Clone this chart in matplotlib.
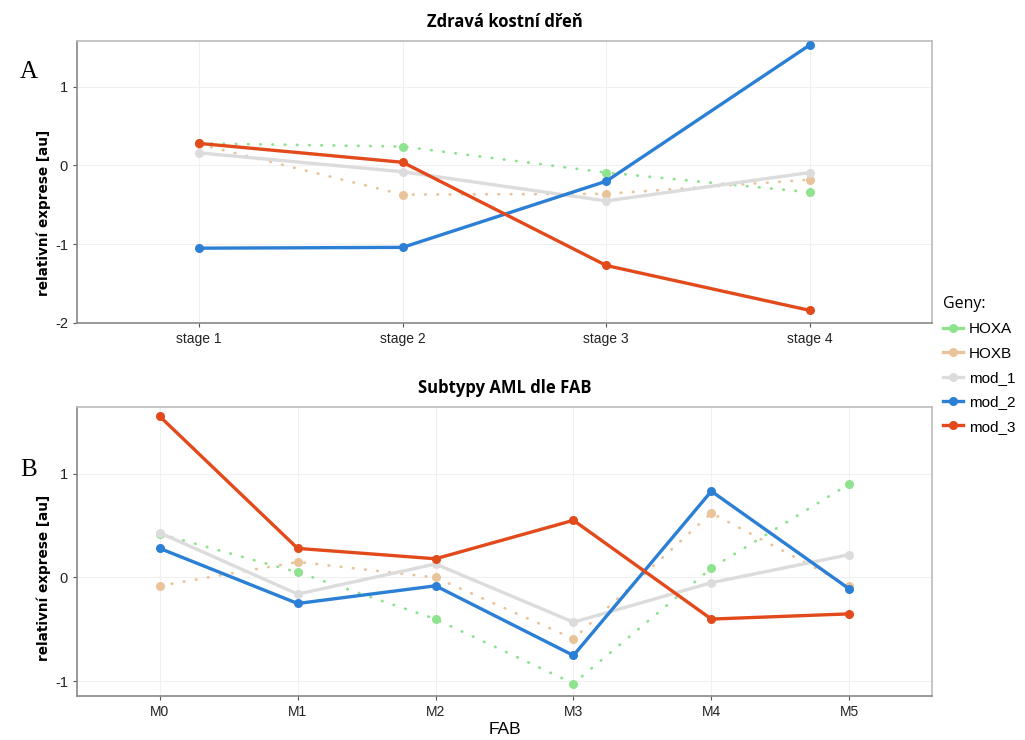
import matplotlib
matplotlib.use("Agg")
import matplotlib.pyplot as plt
from matplotlib.lines import Line2D

stages = ["stage 1", "stage 2", "stage 3", "stage 4"]
fab = ["M0", "M1", "M2", "M3", "M4", "M5"]
genes = ["HOXA", "HOXB", "mod_1", "mod_2", "mod_3"]

# Panel A: healthy bone marrow
a_hoxa = [0.28, 0.24, -0.09, -0.34]
a_hoxb = [0.27, -0.37, -0.36, -0.18]
a_mod1 = [0.16, -0.08, -0.45, -0.09]
a_mod2 = [-1.05, -1.04, -0.20, 1.53]
a_mod3 = [0.28, 0.04, -1.27, -1.84]

# Panel B: AML FAB subtypes
b_hoxa = [0.42, 0.05, -0.40, -1.02, 0.09, 0.90]
b_hoxb = [-0.08, 0.15, 0.00, -0.59, 0.62, -0.08]
b_mod1 = [0.43, -0.16, 0.13, -0.43, -0.05, 0.22]
b_mod2 = [0.28, -0.25, -0.08, -0.75, 0.83, -0.11]
b_mod3 = [1.55, 0.28, 0.18, 0.55, -0.40, -0.35]

colors = {"HOXA": "#8fe38f", "HOXB": "#e9c49a", "mod_1": "#dcdcdc",
          "mod_2": "#2b7fd4", "mod_3": "#e2491b"}
dotted = {"HOXA": True, "HOXB": True, "mod_1": False, "mod_2": False, "mod_3": False}

fig = plt.figure(figsize=(10.25, 7.4), dpi=100)
W, H = 1025, 740

def ax_rect(l, t, r, b):
    return [l / W, 1 - b / H, (r - l) / W, (b - t) / H]

axA = fig.add_axes(ax_rect(77, 41, 932, 323))
axB = fig.add_axes(ax_rect(77, 407, 932, 696))

def draw(ax, cats, series, ylim, yticks, title, label_y):
    x = list(range(len(cats)))
    for g in genes:
        vals = series[g]
        if dotted[g]:
            ax.plot(x, vals, color=colors[g], lw=2.0, ls=(0, (0.2, 4.2)),
                    dash_capstyle="round", marker="o", ms=6.5, mec="none", zorder=2)
        else:
            ax.plot(x, vals, color=colors[g], lw=2.4, ls="-",
                    marker="o", ms=6.5, mec="none", zorder=3)
    ax.set_xlim(-0.6, len(cats) - 1 + 0.6)
    ax.set_ylim(*ylim)
    ax.set_xticks(x)
    ax.set_xticklabels(cats, family="Liberation Sans", fontsize=10, color="#222222")
    ax.set_yticks(yticks)
    ax.set_yticklabels([str(t) for t in yticks], family="Liberation Sans", fontsize=10.5, color="#222222")
    ax.tick_params(length=3, width=0.8, color="#555555")
    ax.grid(True, color="#f0f0f0", lw=0.8)
    ax.set_axisbelow(True)
    for s in ["left", "bottom"]:
        ax.spines[s].set_color("#888888")
        ax.spines[s].set_linewidth(1.2)
    for s in ["top", "right"]:
        ax.spines[s].set_color("#bbbbbb")
        ax.spines[s].set_linewidth(1.2)
    ax.set_ylabel("relativní exprese [au]", family="DejaVu Sans", fontweight="bold",
                  fontsize=9.8)
    ax.yaxis.set_label_coords(-0.03, label_y)
    ax.set_title(title, family="Open Sans", fontweight="bold", fontsize=12, pad=10)

draw(axA, stages, {"HOXA": a_hoxa, "HOXB": a_hoxb, "mod_1": a_mod1,
                   "mod_2": a_mod2, "mod_3": a_mod3},
     (-2.0, 1.58), [1, 0, -1, -2], "Zdravá kostní dřeň", 0.39)
draw(axB, fab, {"HOXA": b_hoxa, "HOXB": b_hoxb, "mod_1": b_mod1,
                "mod_2": b_mod2, "mod_3": b_mod3},
     (-1.14, 1.64), [1, 0, -1], "Subtypy AML dle FAB", 0.41)
axB.set_xlabel("FAB", family="Liberation Sans", fontsize=12.5, labelpad=2)

fig.text(20 / W, 1 - 72 / H, "A", family="Liberation Serif", fontsize=18, va="center", ha="left")
fig.text(20 / W, 1 - 470 / H, "B", family="Liberation Serif", fontsize=18, va="center", ha="left")

handles = []
for g in genes:
    handles.append(Line2D([], [], color=colors[g], lw=2.4, marker="o", ms=6.5, mec="none"))
leg = fig.legend(handles, genes, loc="upper left", bbox_to_anchor=(929 / W, 1 - 282 / H),
                 frameon=False, title="Geny:", handlelength=1.3, handletextpad=0.4,
                 labelspacing=0.68, prop={"family": "Liberation Sans", "size": 11})
leg.get_title().set_family("Open Sans")
leg.get_title().set_fontsize(11.5)
leg._legend_box.align = "left"

fig.savefig("out.png", dpi=100)
